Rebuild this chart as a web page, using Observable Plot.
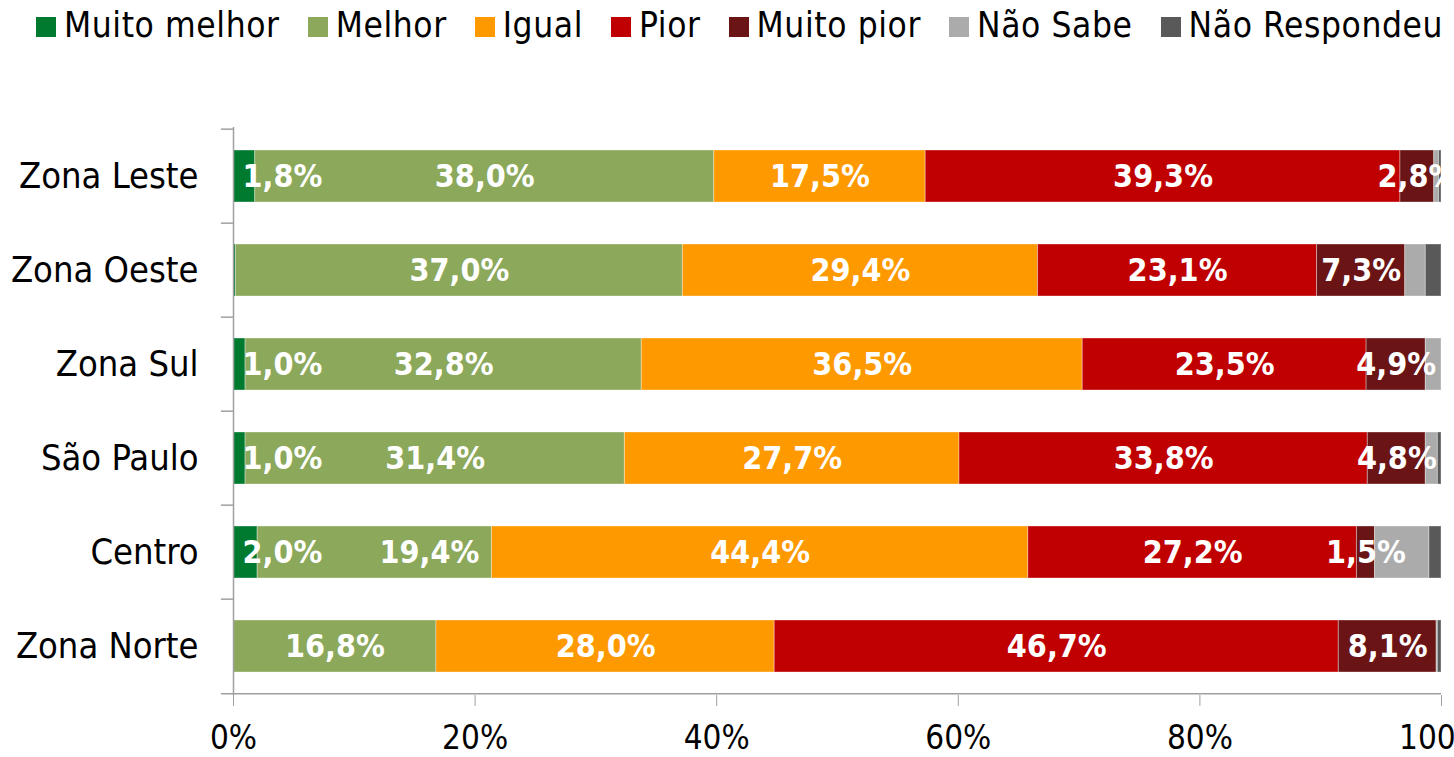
<!DOCTYPE html>
<html><head><meta charset="utf-8">
<script src="https://cdn.jsdelivr.net/npm/d3@7"></script>
<script src="https://cdn.jsdelivr.net/npm/@observablehq/plot@0.6"></script>
<style>
html,body{margin:0;padding:0;background:#fff;overflow:hidden;}
body{font-family:"DejaVu Sans Condensed","DejaVu Sans",sans-serif;}
#legend{height:50px;display:flex;align-items:center;padding-left:36px;font-size:35px;letter-spacing:0.6px;white-space:nowrap;color:#000;}
#legend .item{display:flex;align-items:center;margin-right:28px;}
#legend .sw{width:20px;height:20px;margin-right:8px;margin-top:4px;flex:none;}
#chart svg{display:block;}
#chart g[aria-label^="x-axis"] line, #chart g[aria-label^="x-axis"] path{stroke:#a0a0a0;}
#chart g[aria-label^="y-axis"] text{font-size:36px;}
</style></head>
<body>
<div id="legend"></div>
<div id="chart"></div>
<script>
const regions = ["Zona Leste","Zona Oeste","Zona Sul","São Paulo","Centro","Zona Norte"];
const categories = ["Muito melhor","Melhor","Igual","Pior","Muito pior","Não Sabe","Não Respondeu"];
const colors = ["#007A2E","#8BA85B","#FF9900","#C00000","#6A1416","#ABABAB","#595959"];
const muitoMelhor  = [1.8, 0.2, 1.0, 1.0, 2.0, 0.0];
const melhor       = [38.0, 37.0, 32.8, 31.4, 19.4, 16.8];
const igual        = [17.5, 29.4, 36.5, 27.7, 44.4, 28.0];
const pior         = [39.3, 23.1, 23.5, 33.8, 27.2, 46.7];
const muitoPior    = [2.8, 7.3, 4.9, 4.8, 1.5, 8.1];
const naoSabe      = [0.4, 1.7, 1.3, 1.0, 4.5, 0.1];
const naoRespondeu = [0.2, 1.3, 0.0, 0.3, 1.0, 0.3];
const xTicks = [0, 20, 40, 60, 80, 100];
const labelledCategories = ["Muito melhor","Melhor","Igual","Pior","Muito pior"];

const series = [muitoMelhor, melhor, igual, pior, muitoPior, naoSabe, naoRespondeu];
const rows = [];
regions.forEach((r, i) => {
  let acc = 0;
  categories.forEach((c, j) => {
    const v = series[j][i];
    rows.push({region: r, category: c, value: v, x1: acc, x2: acc + v});
    acc += v;
  });
});
const fmt = d => d3.format(".1f")(d.value).replace(".", ",") + "%";

// layout constants
const W = 1454, H = 707, mT = 77, mB = 62, mL = 233, mR = 13;
const pxPer = (W - mL - mR) / 100;
const labelFont = 32;
const estWidth = d => fmt(d).length * 0.62 * labelFont; // rough label width in px

const labelRows = rows.filter(d => labelledCategories.includes(d.category) && d.value >= 1);
const leftLabels = labelRows.filter(d => d.x1 === 0 && d.value < 3);
// push labels that would crowd a left-anchored label
labelRows.forEach(d => {
  d.shift = 0;
  const left = leftLabels.find(l => l.region === d.region);
  if (!left || left === d) return;
  const leftEnd = 9 + estWidth(left);
  const start = ((d.x1 + d.x2) / 2) * pxPer - estWidth(d) / 2;
  if (start < leftEnd + 30) d.shift = leftEnd + 58 - start;
});
const centerLabels = labelRows.filter(d => !leftLabels.includes(d) && d.shift === 0);
const shiftedLabels = labelRows.filter(d => !leftLabels.includes(d) && d.shift > 0);

// legend
const lg = d3.select("#legend");
categories.forEach((c, j) => {
  const it = lg.append("div").attr("class", "item");
  it.append("div").attr("class", "sw").style("background", colors[j]);
  it.append("span").text(c);
});

const grey = "#a0a0a0";
const step = (H - mT - mB) / regions.length;
const labelStyle = {fill: "#fff", fontWeight: "bold", fontSize: labelFont};
const chart = Plot.plot({
  width: W, height: H,
  marginTop: mT, marginBottom: mB, marginLeft: mL, marginRight: mR,
  style: {fontFamily: "'DejaVu Sans Condensed','DejaVu Sans',sans-serif", fontSize: "33px", color: "#000", background: "#fff"},
  x: {domain: [0, 100], ticks: xTicks, tickFormat: d => d + "%", tickSize: 11, tickPadding: 19, label: null},
  y: {domain: regions, padding: 0, tickSize: 0, tickPadding: 35, label: null},
  color: {domain: categories, range: colors},
  marks: [
    Plot.barX(rows, {x1: "x1", x2: "x2", y: "region", fill: "category", insetTop: 21, insetBottom: 21, stroke: "#fff", strokeOpacity: 0.35, strokeWidth: 1}),
    Plot.ruleX([0], {stroke: grey, strokeWidth: 1.5}),
    Plot.ruleY(regions, {y: d => d, x1: -1, x2: 0, dy: -step / 2, stroke: grey, strokeWidth: 1.5}),
    Plot.ruleY(regions.slice(-1), {y: d => d, x1: -1, x2: 100, dy: step / 2, stroke: grey, strokeWidth: 1.5}),
    Plot.text(centerLabels, {x: d => (d.x1 + d.x2) / 2, y: "region", text: fmt, ...labelStyle, clip: true}),
    ...shiftedLabels.map(d => Plot.text([d], {x: d => (d.x1 + d.x2) / 2, y: "region", text: fmt, ...labelStyle, dx: d.shift})),
    Plot.text(leftLabels, {x: "x1", y: "region", text: fmt, ...labelStyle, textAnchor: "start", dx: 9})
  ]
});
document.getElementById("chart").appendChild(chart);
</script>
</body></html>
